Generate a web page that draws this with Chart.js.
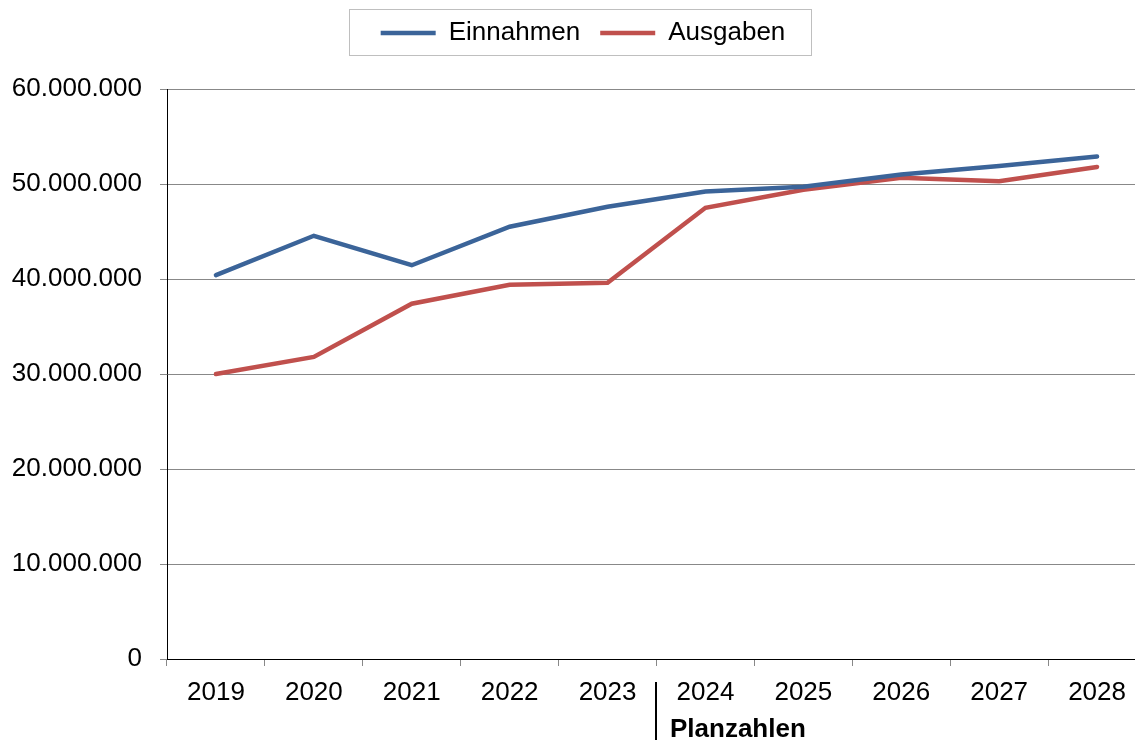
<!DOCTYPE html>
<html>
<head>
<meta charset="utf-8">
<script src="https://cdn.jsdelivr.net/npm/chart.js@4.4.1/dist/chart.umd.min.js"></script>
<style>
  html, body { margin: 0; padding: 0; overflow: hidden; background: #fff; }
</style>
</head>
<body>
<canvas id="chart" width="1166" height="740"></canvas>
<script>
// Jahre auf der x-Achse
const years = ["2019", "2020", "2021", "2022", "2023", "2024", "2025", "2026", "2027", "2028"];
// Einnahmen / Ausgaben in Euro
const einnahmen = [40400000, 44550000, 41450000, 45500000, 47600000, 49200000, 49700000, 51000000, 51900000, 52900000];
const ausgaben = [30000000, 31800000, 37400000, 39400000, 39600000, 47500000, 49400000, 50650000, 50300000, 51800000];
// y-Achse
const yTicks = [0, 10000000, 20000000, 30000000, 40000000, 50000000, 60000000];
// ab hier Planzahlen
const planStart = "2024";
const planLabel = "Planzahlen";

const font = "'Liberation Sans', Arial, sans-serif";

//Tausenderpunkte
const fmt = (v) => String(v).replace(/\B(?=(\d{3})+(?!\d))/g, ".");

//Legende: Abstand nach unten, mittig auf dem Canvas, mit Rahmen
let legendShift = 0;
const legendBox = {
  id: "legendBox",
  afterInit(chart) {
    const lg = chart.legend;
    const fit = lg.fit;
    lg.fit = function () {
      fit.call(this);
      this.height += 33;
    };
    const draw = lg.draw;
    lg.draw = function () {
      legendShift = Math.round(chart.width / 2 - (this.left + this.right) / 2);
      this.left += legendShift;
      this.right += legendShift;
      draw.call(this);
      this.left -= legendShift;
      this.right -= legendShift;
    };
  },
  afterDraw(chart) {
    const boxes = chart.legend.legendHitBoxes;
    if (!boxes || !boxes.length) return;
    const l = Math.min(...boxes.map((b) => b.left)) + legendShift - 32;
    const r = Math.max(...boxes.map((b) => b.left + b.width)) + legendShift + 25;
    const ctx = chart.ctx;
    ctx.save();
    ctx.strokeStyle = "#bfbfbf";
    ctx.lineWidth = 1;
    ctx.strokeRect(Math.round(l) + 0.5, 9.5, Math.round(r - l), 46);
    ctx.restore();
  },
};

//Trennstrich und Beschriftung "Planzahlen"
const planMarker = {
  id: "planMarker",
  afterDraw(chart) {
    const x = chart.scales.x;
    const i = years.indexOf(planStart);
    const px = Math.round((x.getPixelForValue(i - 1) + x.getPixelForValue(i)) / 2) - 2;
    const ctx = chart.ctx;
    ctx.save();
    ctx.fillStyle = "#000";
    ctx.fillRect(px, chart.chartArea.bottom + 23, 2, chart.height - chart.chartArea.bottom - 23);
    ctx.font = "bold 26px " + font;
    ctx.textBaseline = "alphabetic";
    ctx.fillText(planLabel, px + 15, chart.chartArea.bottom + 78);
    ctx.restore();
  },
};

new Chart(document.getElementById("chart"), {
  type: "line",
  plugins: [legendBox, planMarker],
  data: {
    labels: years,
    datasets: [
      {
        label: "Einnahmen",
        data: einnahmen,
        borderColor: "#3b6499",
        backgroundColor: "#3b6499",
        borderWidth: 4.5,
        borderCapStyle: "round",
        pointRadius: 0,
        tension: 0,
      },
      {
        label: "Ausgaben",
        data: ausgaben,
        borderColor: "#c0504d",
        backgroundColor: "#c0504d",
        borderWidth: 4.5,
        borderCapStyle: "round",
        pointRadius: 0,
        tension: 0,
      },
    ],
  },
  options: {
    responsive: false,
    animation: false,
    layout: { padding: { left: 0, right: 20, top: 0, bottom: 0 } },
    plugins: {
      tooltip: { enabled: false },
      legend: {
        position: "top",
        labels: {
          usePointStyle: true,
          pointStyle: "line",
          pointStyleWidth: 55,
          padding: 20,
          color: "#000",
          font: { family: font, size: 26 },
        },
      },
    },
    scales: {
      x: {
        offset: true,
        afterFit: (s) => { s.height = 81; },
        grid: {
          offset: true,
          drawOnChartArea: false,
          drawTicks: true,
          tickLength: 7,
          color: "#888",
        },
        border: { color: "#000", width: 1 },
        ticks: {
          color: "#000",
          padding: 11,
          maxRotation: 0,
          font: { family: font, size: 26 },
        },
      },
      y: {
        min: 0,
        max: 60000000,
        afterFit: (s) => { s.width = 167; },
        afterBuildTicks: (s) => { s.ticks = yTicks.map((v) => ({ value: v })); },
        grid: {
          color: "#888",
          tickLength: 7,
        },
        border: { color: "#000", width: 1 },
        ticks: {
          color: "#000",
          padding: 18,
          callback: (v) => fmt(v),
          font: { family: font, size: 26 },
        },
      },
    },
  },
});
</script>
</body>
</html>
